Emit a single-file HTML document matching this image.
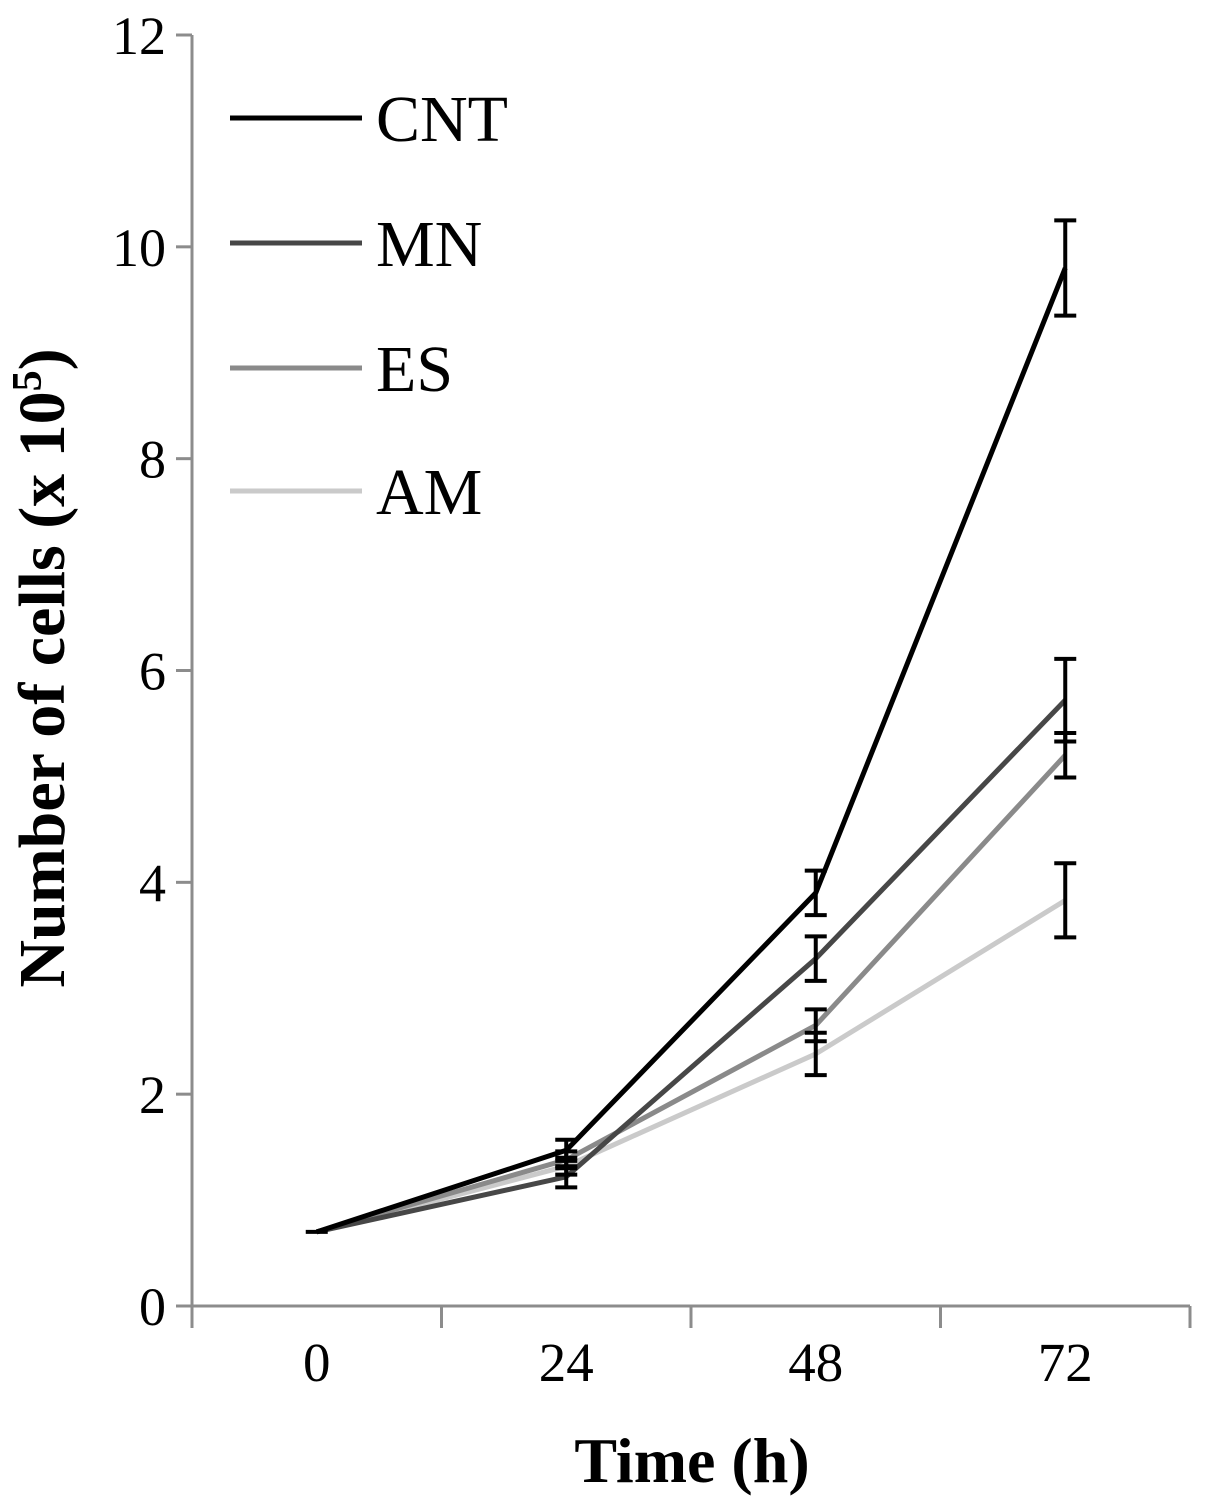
<!DOCTYPE html>
<html><head><meta charset="utf-8"><style>
html,body{margin:0;padding:0;background:#fff;}
svg{display:block;font-family:"Liberation Serif",serif;}
</style></head><body>
<svg id="chart" width="1205" height="1506"></svg>
<script>
const categories = ["0","24","48","72"];
const yTicks = [0,2,4,6,8,10,12];
const seriesNames = ["CNT","MN","ES","AM"];
const cntValues = [0.7,1.47,3.9,9.8];
const mnValues = [0.7,1.22,3.28,5.72];
const esValues = [0.7,1.38,2.65,5.2];
const amValues = [0.7,1.32,2.38,3.83];
const cntErr = [0,0.1,0.21,0.45];
const mnErr = [0,0.1,0.21,0.39];
const esErr = [0,0.08,0.15,0.21];
const amErr = [0,0.08,0.2,0.35];

const NS="http://www.w3.org/2000/svg";
const svg=document.getElementById('chart');
const x0=192,x1=1190,y0=1306,yTop=35,yMax=12;
const band=(x1-x0)/categories.length;
function xs(i){return x0+band*(i+0.5);}
function ys(v){return y0-(y0-yTop)*v/yMax;}
function mk(tag,attrs){const e=document.createElementNS(NS,tag);for(const k in attrs)e.setAttribute(k,attrs[k]);svg.appendChild(e);return e;}

let e=mk('line',{x1:x0,y1:yTop,x2:x0,y2:y0,stroke:'#8c8c8c','stroke-width':3});


e=mk('line',{x1:x0,y1:y0,x2:x1,y2:y0,stroke:'#8c8c8c','stroke-width':3});


yTicks.forEach(v=>{
  const t=mk('line',{x1:x0-16,y1:ys(v),x2:x0,y2:ys(v),stroke:'#8c8c8c','stroke-width':3});
  
  
  const l=mk('text',{x:166,y:ys(v)+19,'font-size':54,'text-anchor':'end',fill:'#000'});
  l.textContent=v;
  
  
});
for(let i=0;i<=categories.length;i++){
  const t=mk('line',{x1:x0+band*i,y1:y0,x2:x0+band*i,y2:y0+22,stroke:'#8c8c8c','stroke-width':3});
  
  
}
categories.forEach((c,i)=>{
  const l=mk('text',{x:xs(i),y:1381,'font-size':55,'text-anchor':'middle',fill:'#000'});
  l.textContent=c;
  
  
});

const series=[[cntValues,cntErr,'#000000'],[mnValues,mnErr,'#474747'],[esValues,esErr,'#8a8a8a'],[amValues,amErr,'#cacaca']];
for(let s=series.length-1;s>=0;s--){
  const [vals,,col]=series[s];
  const p=mk('polyline',{points:vals.map((v,i)=>xs(i)+','+ys(v)).join(' '),fill:'none',stroke:col,'stroke-width':5,'stroke-linejoin':'round'});
  
  
}
series.forEach(([vals,errs],s)=>{
  vals.forEach((v,i)=>{
    if(!errs[i])return;
    const g=document.createElementNS(NS,'g');
    
    
    svg.appendChild(g);
    const x=xs(i),a=ys(v+errs[i]),b=ys(v-errs[i]);
    [[x,a,x,b],[x-11,a,x+11,a],[x-11,b,x+11,b]].forEach(q=>{
      const ln=document.createElementNS(NS,'line');
      ln.setAttribute('x1',q[0]);ln.setAttribute('y1',q[1]);ln.setAttribute('x2',q[2]);ln.setAttribute('y2',q[3]);
      ln.setAttribute('stroke','#000');ln.setAttribute('stroke-width',4);
      g.appendChild(ln);
    });
  });
});
e=mk('line',{x1:xs(0)-11,y1:ys(0.7),x2:xs(0)+11,y2:ys(0.7),stroke:'#000','stroke-width':4});



const legY=[118,243,368,491];
series.forEach(([, ,col],s)=>{
  const ln=mk('line',{x1:230,y1:legY[s],x2:362,y2:legY[s],stroke:col,'stroke-width':5});
  
  
  const t=mk('text',{x:376,y:legY[s]+23,'font-size':66,fill:'#000'});
  t.textContent=seriesNames[s];
  
  
});

e=mk('text',{x:0,y:0,'font-size':66,'font-weight':'bold','text-anchor':'middle',transform:'translate(64,668) rotate(-90)'});
e.innerHTML='Number of cells (x 10<tspan dy="-23" font-size="42">5</tspan><tspan dy="23">)</tspan>';


e=mk('text',{x:692,y:1482,'font-size':64,'font-weight':'bold','text-anchor':'middle'});
e.textContent='Time (h)';


</script>
</body></html>
